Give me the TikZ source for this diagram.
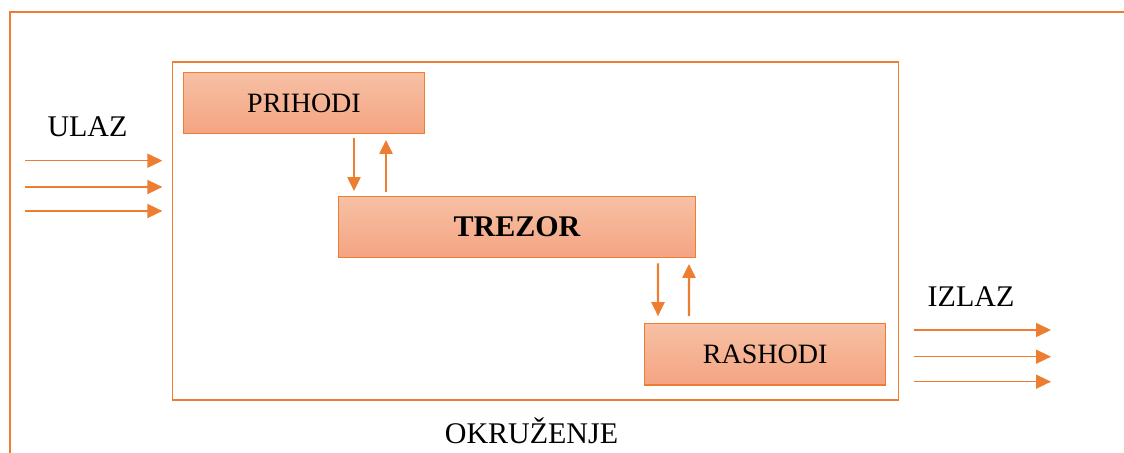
\documentclass[tikz,border=0pt]{standalone}
\usepackage{fontspec}
\setmainfont{Liberation Serif}
\usetikzlibrary{arrows.meta}

\definecolor{okvir}{HTML}{ED7D31}
\definecolor{svijetla}{HTML}{F7C0A4}
\definecolor{tamna}{HTML}{F4A482}

\tikzset{
    blok/.style={draw=okvir, line width=0.6pt, top color=svijetla, bottom color=tamna, inner sep=0pt, font=\fontsize{14}{16}\selectfont},
    tok/.style={draw=okvir, line width=1.1pt, -{Triangle[length=7pt, width=6.5pt]}},
    veza/.style={draw=okvir, line width=0.8pt, -{Triangle[length=7.5pt, width=7pt]}},
    natpis/.style={inner sep=0pt, font=\fontsize{15}{17}\selectfont}
}

\begin{document}
\begin{tikzpicture}[x=0.5pt, y=-0.5pt]
    \useasboundingbox (0,0) rectangle (1124,453);
    % okruzenje i sistem
    \draw[draw=okvir, line width=0.8pt] (10,453) -- (10,12) -- (1124,12);
    \node[draw=okvir, line width=0.6pt, minimum width=363pt, minimum height=169pt, inner sep=0pt] (sistem) at (535.5,231) {};

    \node[blok, minimum width=120.5pt, minimum height=30.3pt] (prihodi) at (304,103) {PRIHODI};
    \node[blok, minimum width=178.7pt, minimum height=30.5pt, font=\fontsize{15}{17}\selectfont\bfseries] (trezor) at (517,227.2) {TREZOR};
    \node[blok, minimum width=120.5pt, minimum height=30.8pt] (rashodi) at (765.2,354.2) {RASHODI};

    \draw[tok, shorten <=2pt, shorten >=2.5pt] ([xshift=25pt]prihodi.south) -- ([xshift=-81.5pt]trezor.north);
    \draw[tok, shorten <=1.8pt, shorten >=3pt] ([xshift=-65.5pt]trezor.north) -- ([xshift=41pt]prihodi.south);
    \draw[tok, shorten <=2.5pt, shorten >=3.3pt] ([xshift=70.5pt]trezor.south) -- ([xshift=-53.6pt]rashodi.north);
    \draw[tok, shorten <=3.3pt, shorten >=2.8pt] ([xshift=-38.1pt]rashodi.north) -- ([xshift=86pt]trezor.south);

    % ulaz i izlaz
    \node[natpis] (ulaz) at (87.5,127) {ULAZ};
    \node[natpis] (izlaz) at (971,296.5) {IZLAZ};
    \foreach \y in {160.7,187,211}
        \draw[veza, shorten >=4.75pt] (25,\y) -- (sistem.west |- 0,\y);
    \foreach \y in {330,356.7,381.7}
        \draw[veza, shorten <=7.25pt] (sistem.east |- 0,\y) -- (1051,\y);

    \node[natpis] (okruzenje) at (531.5,430.5) {OKRUŽENJE};
\end{tikzpicture}
\end{document}
